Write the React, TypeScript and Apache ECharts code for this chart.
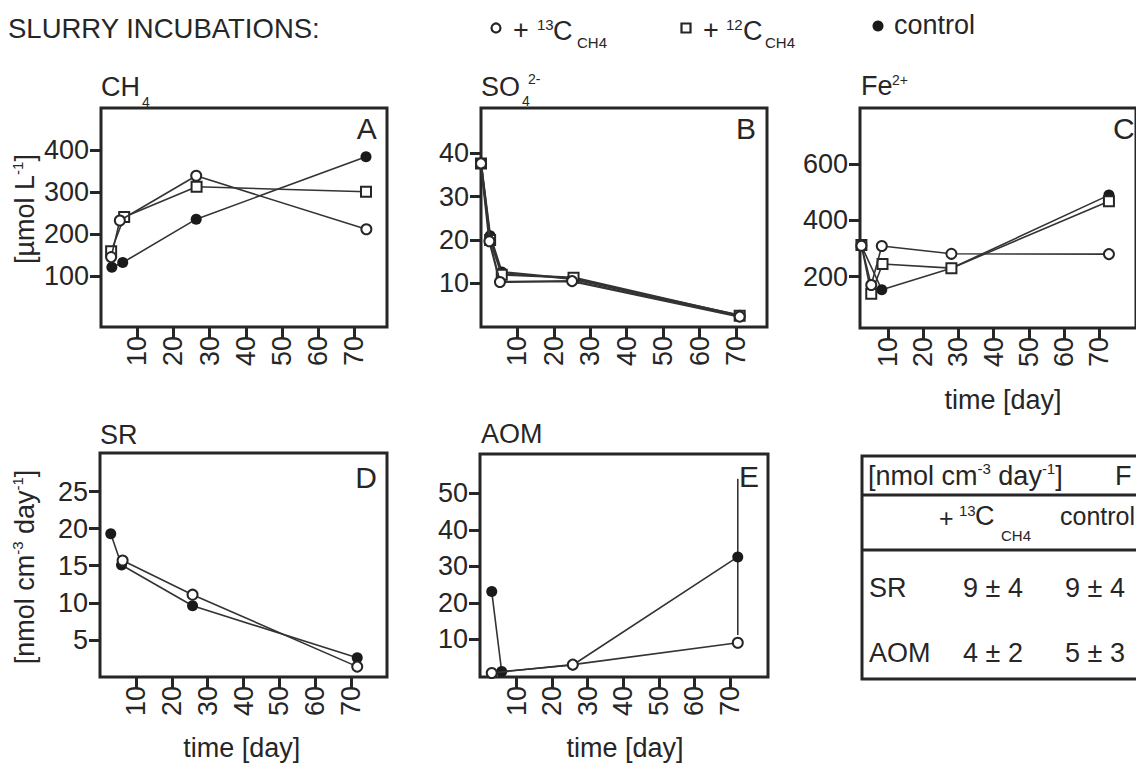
import React, { useEffect, useRef } from "react";
import * as echarts from "echarts";

const FONT = '"Liberation Sans", Arial, Helvetica, sans-serif';
const INK = "#262626";
const LINE = "#333333";

// shared x ticks (time in days)
const dayTicks = [10, 20, 30, 40, 50, 60, 70];

// Panel A: CH4 [µmol L-1]
const ch4Ticks = [100, 200, 300, 400];
const ch4Day13 = [2.8, 5.2, 26.3, 73.3];
const ch4Val13 = [146, 233, 339, 212];
const ch4Day12 = [2.8, 6.4, 26.4, 73.2];
const ch4Val12 = [160, 241, 313, 301];
const ch4DayCtl = [3.0, 6.0, 26.3, 73.2];
const ch4ValCtl = [122, 133, 236, 384];

// Panel B: SO4 2-
const so4Ticks = [10, 20, 30, 40];
const so4Day13 = [0, 2.3, 5.2, 25.0, 71.0];
const so4Val13 = [37.7, 19.7, 10.3, 10.5, 2.3];
const so4Day12 = [0, 2.5, 5.7, 25.4, 71.0];
const so4Val12 = [37.7, 20.0, 12.0, 11.3, 2.5];
const so4DayCtl = [0, 2.5, 5.7, 25.0, 71.0];
const so4ValCtl = [37.7, 21.0, 12.6, 11.0, 2.6];

// Panel C: Fe2+
const feTicks = [200, 400, 600];
const feDay13 = [2.4, 5.2, 8.2, 28.0, 72.8];
const feVal13 = [310, 170, 309, 281, 280];
const feDay12 = [2.4, 5.2, 8.4, 28.0, 72.8];
const feVal12 = [312, 139, 245, 230, 468];
const feDayCtl = [2.4, 8.2, 28.0, 72.8];
const feValCtl = [310, 153, 230, 490];

// Panel D: SR [nmol cm-3 day-1]
const srTicks = [5, 10, 15, 20, 25];
const srDay13 = [6.3, 25.8, 71.7];
const srVal13 = [15.7, 11.1, 1.4];
const srDayCtl = [3.0, 6.0, 25.8, 71.7];
const srValCtl = [19.3, 15.1, 9.6, 2.6];

// Panel E: AOM
const aomTicks = [10, 20, 30, 40, 50];
const aomDay13 = [3.0, 25.8, 72.2];
const aomVal13 = [0.8, 3.1, 9.1];
const aomDayCtl = [3.0, 5.8, 25.8, 72.2];
const aomValCtl = [23.1, 1.2, 3.0, 32.6];
const aomCtlErr = 21.4; // error on last control point

// Panel F: table of rates
const rateRows = ["SR", "AOM"];
const rate13 = ["9 ± 4", "4 ± 2"];
const rateCtl = ["9 ± 4", "5 ± 3"];

const zip = (d: number[], v: number[]) => d.map((x, i) => [x, v[i]]);

type Kind = "c13" | "c12" | "ctl";

function mkSeries(kind: Kind, gi: number, data: number[][], lw = 1.6) {
  const base: any = {
    type: "line",
    xAxisIndex: gi,
    yAxisIndex: gi,
    data,
    clip: false,
    silent: true,
    lineStyle: { color: LINE, width: lw },
    emphasis: { disabled: true },
  };
  if (kind === "c13") {
    base.symbol = "circle";
    base.symbolSize = 10;
    base.itemStyle = { color: "#ffffff", borderColor: INK, borderWidth: 2 };
    base.z = 4;
  } else if (kind === "c12") {
    base.symbol = "rect";
    base.symbolSize = 10;
    base.itemStyle = { color: "#ffffff", borderColor: INK, borderWidth: 2 };
    base.z = 3;
  } else {
    base.symbol = "circle";
    base.symbolSize = 11;
    base.itemStyle = { color: "#1a1a1a", borderColor: "#1a1a1a", borderWidth: 0 };
    base.z = 2;
  }
  return base;
}

const panels = [
  { grid: { left: 101, top: 108, width: 286, height: 219 }, x: [0, 79], y: [-20, 500], yTicks: ch4Ticks },
  { grid: { left: 481, top: 108, width: 286, height: 219 }, x: [0, 78.5], y: [-0.1, 50.5], yTicks: so4Ticks },
  { grid: { left: 860, top: 108, width: 286, height: 220 }, x: [2, 80.5], y: [17, 800], yTicks: feTicks },
  { grid: { left: 100, top: 453, width: 287, height: 224 }, x: [0, 80], y: [0, 30.2], yTicks: srTicks },
  { grid: { left: 480, top: 454, width: 288, height: 223 }, x: [-0.3, 80.7], y: [-0.3, 60.8], yTicks: aomTicks },
];

function T(text: string, x: number, y: number, size = 27, align = "left", extra: any = {}) {
  return {
    type: "text",
    x,
    y,
    silent: true,
    style: { text, fontSize: size, fontFamily: FONT, fill: INK, align, verticalAlign: "middle" },
    ...extra,
  };
}

const richBase = {
  m: { fontSize: 27, fontFamily: FONT, fill: INK, lineHeight: 30, verticalAlign: "middle" },
  s: { fontSize: 15, fontFamily: FONT, fill: INK, lineHeight: 15, verticalAlign: "top" },
};

function buildOption() {
  const grids = panels.map((p) => ({
    ...p.grid,
    show: true,
    borderColor: INK,
    borderWidth: 3,
    backgroundColor: "transparent",
    containLabel: false,
  }));
  const xAxis = panels.map((p, i) => ({
    type: "value",
    gridIndex: i,
    min: p.x[0],
    max: p.x[1],
    axisLine: { show: false, onZero: false },
    splitLine: { show: false },
    axisTick: { show: true, inside: false, length: 12, customValues: dayTicks, lineStyle: { color: INK, width: 3 } },
    axisLabel: { customValues: dayTicks, rotate: 90, margin: 9, fontSize: 27, color: INK, fontFamily: FONT },
  }));
  const yAxis = panels.map((p, i) => ({
    type: "value",
    gridIndex: i,
    min: p.y[0],
    max: p.y[1],
    axisLine: { show: false, onZero: false },
    splitLine: { show: false },
    axisTick: { show: true, inside: false, length: 11, customValues: p.yTicks, lineStyle: { color: INK, width: 3 } },
    axisLabel: { customValues: p.yTicks, margin: 12, fontSize: 27, color: INK, fontFamily: FONT },
  }));

  const lastCtl = aomDayCtl.length - 1;
  const series: any[] = [
    mkSeries("ctl", 0, zip(ch4DayCtl, ch4ValCtl)),
    mkSeries("c12", 0, zip(ch4Day12, ch4Val12)),
    mkSeries("c13", 0, zip(ch4Day13, ch4Val13)),
    mkSeries("ctl", 1, zip(so4DayCtl, so4ValCtl), 2.2),
    mkSeries("c12", 1, zip(so4Day12, so4Val12), 2.2),
    mkSeries("c13", 1, zip(so4Day13, so4Val13), 2.2),
    mkSeries("ctl", 2, zip(feDayCtl, feValCtl)),
    mkSeries("c12", 2, zip(feDay12, feVal12)),
    mkSeries("c13", 2, zip(feDay13, feVal13)),
    mkSeries("ctl", 3, zip(srDayCtl, srValCtl)),
    mkSeries("c13", 3, zip(srDay13, srVal13)),
    {
      type: "line",
      xAxisIndex: 4,
      yAxisIndex: 4,
      data: [
        [aomDayCtl[lastCtl], aomValCtl[lastCtl] - aomCtlErr],
        [aomDayCtl[lastCtl], aomValCtl[lastCtl] + aomCtlErr],
      ],
      symbol: "none",
      silent: true,
      clip: false,
      z: 1,
      lineStyle: { color: LINE, width: 1.6 },
    },
    mkSeries("ctl", 4, zip(aomDayCtl, aomValCtl)),
    mkSeries("c13", 4, zip(aomDay13, aomVal13)),
  ];

  const graphic: any[] = [
    // legend
    T("SLURRY INCUBATIONS:", 8, 28, 27.5),
    { type: "circle", silent: true, shape: { cx: 496, cy: 28, r: 4.5 }, style: { fill: "#fff", stroke: INK, lineWidth: 2.2 } },
    T("+", 513, 30),
    T("13", 537, 24, 15),
    T("C", 553, 31),
    T("CH4", 577, 42, 15),
    { type: "rect", silent: true, shape: { x: 681.5, y: 23.5, width: 9, height: 9 }, style: { fill: "#fff", stroke: INK, lineWidth: 2.2 } },
    T("+", 703, 30),
    T("12", 726, 24, 15),
    T("C", 743, 31),
    T("CH4", 765, 42, 15),
    { type: "circle", silent: true, shape: { cx: 878, cy: 26, r: 5.5 }, style: { fill: "#1a1a1a" } },
    T("control", 894, 25),

    // panel titles
    T("CH", 101, 87),
    T("4", 142, 102, 14),
    T("SO", 481, 87),
    T("4", 522, 101, 14),
    T("2-", 528, 79, 14),
    T("Fe", 861, 86),
    T("2+", 892, 80, 14),
    T("SR", 100, 435),
    T("AOM", 481, 434),

    // panel letters
    T("A", 366.7, 128, 30, "center"),
    T("B", 746, 128, 30, "center"),
    T("C", 1113, 128, 30, "left"),
    T("D", 366, 477, 30, "center"),
    T("E", 739, 476, 30, "left"),

    // y-axis names
    {
      type: "text",
      x: 25,
      y: 209,
      rotation: Math.PI / 2,
      silent: true,
      style: {
        text: "{m|[µmol L}{s|-1}{m|]}",
        align: "center",
        verticalAlign: "middle",
        fontSize: 27,
        fontFamily: FONT,
        fill: INK,
        rich: richBase,
      },
    },
    {
      type: "text",
      x: 25,
      y: 567,
      rotation: Math.PI / 2,
      silent: true,
      style: {
        text: "{m|[nmol cm}{s|-3}{m| day}{s|-1}{m|]}",
        align: "center",
        verticalAlign: "middle",
        fontSize: 27,
        fontFamily: FONT,
        fill: INK,
        rich: richBase,
      },
    },

    // x-axis names
    T("time [day]", 1003, 400, 27, "center"),
    T("time [day]", 241.7, 748, 27, "center"),
    T("time [day]", 625, 748, 27, "center"),

    // panel F table
    { type: "rect", silent: true, shape: { x: 862, y: 456, width: 300, height: 223 }, style: { fill: "none", stroke: INK, lineWidth: 3 } },
    { type: "line", silent: true, shape: { x1: 862, y1: 495, x2: 1140, y2: 495 }, style: { stroke: INK, lineWidth: 3 } },
    { type: "line", silent: true, shape: { x1: 862, y1: 550, x2: 1140, y2: 550 }, style: { stroke: INK, lineWidth: 3 } },
    {
      type: "text",
      x: 868,
      y: 476,
      silent: true,
      style: {
        text: "{m|[nmol cm}{s|-3}{m| day}{s|-1}{m|]}",
        align: "left",
        verticalAlign: "middle",
        fontSize: 27,
        fontFamily: FONT,
        fill: INK,
        rich: richBase,
      },
    },
    T("F", 1115, 476),
    T("+", 939, 518, 25),
    T("13", 959, 510, 15),
    T("C", 975, 516),
    T("CH4", 1001, 535, 15),
    T("control", 1060, 516, 25),
  ];

  rateRows.forEach((r, i) => {
    const y = 588 + i * 65;
    graphic.push(T(r, 869, y));
    graphic.push(T(rate13[i], 993, y, 27, "center"));
    graphic.push(T(rateCtl[i], 1095, y, 27, "center"));
  });

  return {
    animation: false,
    backgroundColor: "#ffffff",
    textStyle: { fontFamily: FONT },
    grid: grids,
    xAxis,
    yAxis,
    series,
    graphic,
  };
}

export default function App() {
  const ref = useRef<HTMLDivElement>(null);
  useEffect(() => {
    if (!ref.current) return;
    const chart = echarts.init(ref.current, undefined, { renderer: "svg" });
    chart.setOption(buildOption() as any);
    return () => chart.dispose();
  }, []);
  return (
    <div
      ref={ref}
      style={{ position: "absolute", left: 0, top: 0, width: 1136, height: 765, background: "#fff" }}
    />
  );
}
